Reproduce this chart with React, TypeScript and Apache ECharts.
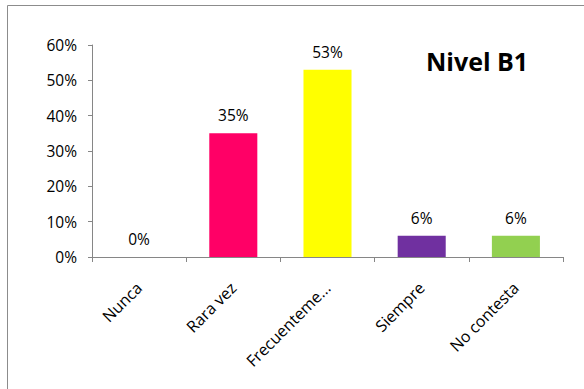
import React, { useEffect, useRef } from "react";
import * as echarts from "echarts";

const categories = ["Nunca", "Rara vez", "Frecuenteme...", "Siempre", "No contesta"];
const values = [0, 35, 53, 6, 6];
const barColors = ["#4F81BD", "#FF0066", "#FFFF00", "#7030A0", "#92D050"];
const yTicks = [0, 10, 20, 30, 40, 50, 60];
const title = "Nivel B1";

export default function App() {
  const ref = useRef<HTMLDivElement>(null);
  useEffect(() => {
    document.body.style.margin = "0";
    const chart = echarts.init(ref.current!, null, { renderer: "svg" });
    const font = "'Open Sans', 'Liberation Sans', sans-serif";
    chart.setOption({
      animation: false,
      backgroundColor: "#ffffff",
      graphic: [
        {
          type: "rect",
          shape: { x: 7.5, y: 5.5, width: 700, height: 500 },
          style: { fill: "none", stroke: "#8c8c8c", lineWidth: 1 },
          silent: true,
        },
        {
          type: "text",
          x: 426,
          y: 48,
          style: { text: title, font: "bold 25px 'Open Sans', sans-serif", fill: "#000" },
        },
      ],
      grid: { left: 92, right: 21, top: 45, bottom: 132 },
      xAxis: {
        type: "category",
        data: categories,
        axisLine: { lineStyle: { color: "#868686" } },
        axisTick: { show: true, length: 5, lineStyle: { color: "#868686" } },
        axisLabel: {
          rotate: 45,
          interval: 0,
          margin: 28,
          align: "right",
          verticalAlign: "middle",
          color: "#000",
          fontSize: 16,
          fontFamily: font,
        },
      },
      yAxis: {
        type: "value",
        min: 0,
        max: 60,
        interval: 10,
        axisLine: { show: true, lineStyle: { color: "#868686" } },
        axisTick: { show: true, length: 4, lineStyle: { color: "#868686" } },
        splitLine: { show: false },
        axisLabel: {
          formatter: (v: number) => (yTicks.includes(v) ? v + "%" : ""),
          color: "#000",
          fontSize: 15.5,
          fontFamily: font,
          margin: 15,
        },
      },
      series: [
        {
          type: "bar",
          barWidth: "51%",
          data: values.map((v, i) => ({ value: v, itemStyle: { color: barColors[i] } })),
          label: {
            show: true,
            position: "top",
            distance: 10,
            formatter: (p: any) => p.value + "%",
            color: "#000",
            fontSize: 15.5,
            fontFamily: font,
          },
        },
      ],
    });
    return () => chart.dispose();
  }, []);
  return <div ref={ref} style={{ width: 584, height: 389 }} />;
}
